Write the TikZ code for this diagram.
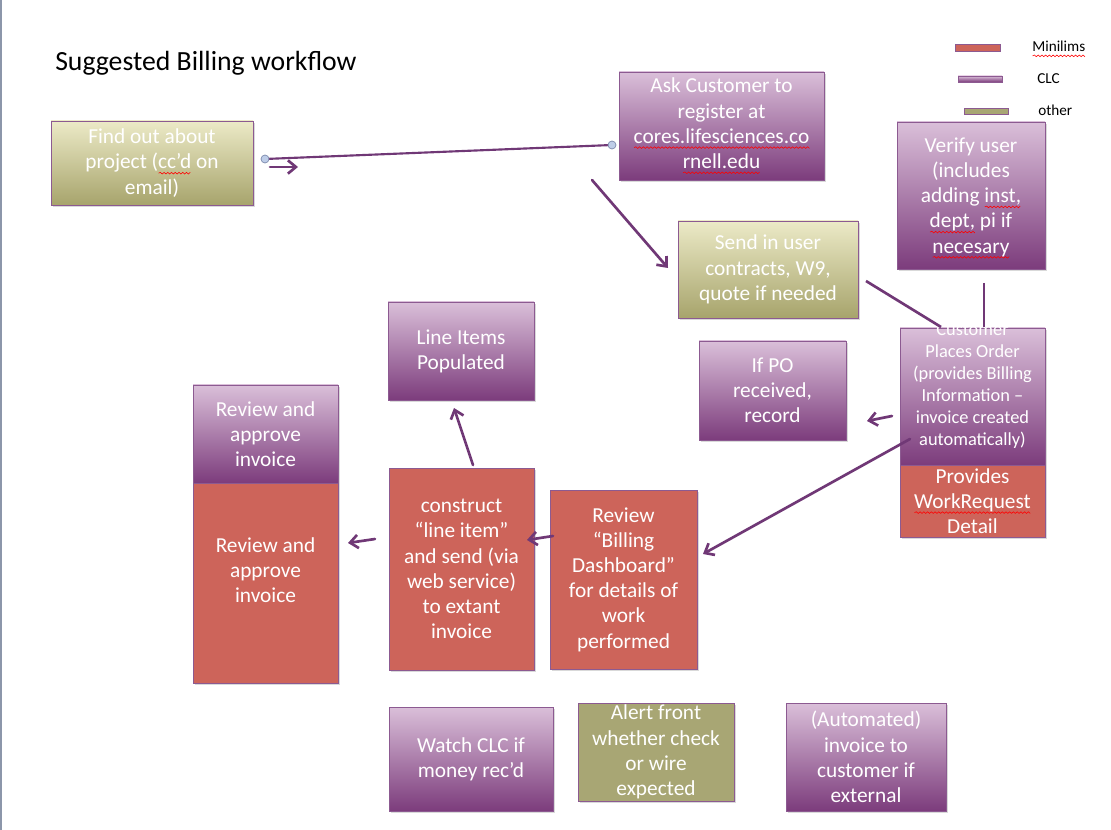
\documentclass[tikz,border=0pt]{standalone}
\usepackage{fontspec}
\setmainfont{Carlito}
\usetikzlibrary{arrows.meta,shadows}

\definecolor{clctop}{RGB}{218,191,217}
\definecolor{clcbot}{RGB}{124,60,124}
\definecolor{othtop}{RGB}{236,234,199}
\definecolor{othbot}{RGB}{167,164,108}
\definecolor{othflat}{RGB}{168,166,116}
\definecolor{milred}{RGB}{205,100,90}
\definecolor{boxline}{RGB}{140,90,145}
\definecolor{flowc}{RGB}{112,56,118}
\definecolor{endpt}{RGB}{190,205,232}

% red squiggle under a word (spell checker mark)
\newcommand\sq[1]{\leavevmode\setbox0\hbox{#1}%
  \rlap{\begin{pgfpicture}\pgfsetbaseline{0pt}%
    \pgfsetlinewidth{0.45pt}\pgfsetstrokecolor{red}%
    \pgfmathtruncatemacro\sqn{\wd0/1.4}%
    \pgfpathmoveto{\pgfpoint{0pt}{-3.2pt}}%
    \foreach \i in {1,...,\sqn}{\pgfpathlineto{\pgfpoint{\i*1.4pt}{-3.8pt+1.2pt*mod(\i,2)}}}%
    \pgfusepath{stroke}\end{pgfpicture}}\box0\relax}

\tikzset{
  boxbase/.style={draw=boxline, line width=0.6pt, inner sep=0pt, align=center,
    text=white, font=\fontsize{16}{18.9}\selectfont,
    drop shadow={opacity=0.3,shadow xshift=1.2pt,shadow yshift=-1.8pt}},
  clc/.style={boxbase, top color=clctop, bottom color=clcbot},
  other/.style={boxbase, top color=othtop, bottom color=othbot},
  otherflat/.style={boxbase, fill=othflat},
  minilims/.style={boxbase, fill=milred},
  sz/.style 2 args={minimum width=#1*0.75pt, minimum height=#2*0.75pt},
  boxtext/.style={align=center, text=white, inner sep=0pt},
  flow/.style={draw=flowc, line width=2pt, line cap=round,
    -{Straight Barb[length=6pt,width=10pt]}},
  link/.style={draw=flowc, line width=2pt},
  legtext/.style={anchor=west, inner sep=0pt, font=\fontsize{11.4}{12}\selectfont},
}

\begin{document}
\begin{tikzpicture}[x=0.75pt,y=-0.75pt]
  \useasboundingbox (0,0) rectangle (1111,830);
  \draw[color={rgb,255:red,140;green,150;blue,170},line width=1.2pt] (1,0) -- (1,830);

  % title and legend
  \node[anchor=west, inner sep=0pt, font=\fontsize{20.8}{22}\selectfont] (title) at (55,63) {Suggested Billing workflow};
  \draw[draw=boxline, fill=milred] (955,44) rectangle (1000,51);
  \draw[draw=boxline, top color=clctop, bottom color=clcbot] (958,76) rectangle (1002,82);
  \draw[draw=boxline, fill=othflat] (964,108) rectangle (1008,114);
  \node[legtext] (legmil) at (1032,49) {\sq{Minilims}};
  \node[legtext] (legclc) at (1037,79) {CLC};
  \node[legtext] (legoth) at (1038,110) {other};

  % top row
  \node[other, sz={202}{84}] (find) at (152,163) {Find out about\\project (\sq{cc’d} on\\email)};
  \node[clc, sz={205}{108}] (ask) at (721.5,126) {Ask Customer to\\register at\\\sq{cores.lifesciences.co}\\\sq{rnell.edu}};
  \node[clc, sz={148}{147}] (verify) at (971,195.5) {};
  \node[boxtext, font=\fontsize{16}{18.9}\selectfont] (verifytxt) at (971,198) {Verify user\\(includes\\adding \sq{inst,}\\\sq{dept,} pi if\\\sq{necesary}};
  \node[other, sz={180}{97}] (send) at (768,269.5) {Send in user\\contracts, W9,\\quote if needed};

  % customer order
  \node[clc, sz={145}{137}] (order) at (972.5,396.5) {};
  \node[boxtext, font=\fontsize{13.8}{16.5}\selectfont] (ordertxt) at (972.5,386) {Customer\\Places Order\\(provides Billing\\Information –\\invoice created\\automatically)};
  \node[minilims, sz={145}{72}] (detail) at (972.5,501) {Provides\\\sq{WorkRequest}\\Detail};
  \node[clc, sz={147}{99}] (po) at (772.5,390.5) {If PO\\received,\\record};

  % middle row
  \node[clc, sz={146}{98}] (lines) at (461,351) {Line Items\\Populated};
  \node[clc, sz={145}{98}] (apprclc) at (265.5,434) {Review and\\approve\\invoice};
  \node[minilims, sz={145}{200}] (apprmil) at (265.5,583) {};
  \node[boxtext, font=\fontsize{16}{18.9}\selectfont] (apprtxt) at (265.5,570) {Review and\\approve\\invoice};
  \node[minilims, sz={145}{202}] (construct) at (461.5,569) {construct\\“line item”\\and send (via\\web service)\\to extant\\invoice};
  \node[minilims, sz={147}{179}] (dash) at (623.5,579.5) {Review\\“Billing\\Dashboard”\\for details of\\work\\performed};

  % bottom row
  \node[clc, sz={164}{104}] (watch) at (471,759) {Watch CLC if\\money rec’d};
  \node[otherflat, sz={156}{98}] (alert) at (656,752) {Alert front\\whether check\\or wire\\expected};
  \node[clc, sz={160}{108}] (auto) at (866,757) {(Automated)\\invoice to\\customer if\\external};

  % connector ends
  \coordinate (findout) at (265,159);
  \coordinate (askin) at (612,145);
  \coordinate (findtail) at (270,167);
  \coordinate (findhead) at (298,167);
  \coordinate (askout) at (592,180);
  \coordinate (sendin) at (668,268);
  \coordinate (sendout) at (866,281);
  \coordinate (ordertl) at (941,327);
  \coordinate (verifyout) at (984,283);
  \coordinate (ordertop) at (984,327);
  \coordinate (orderpo) at (892,416);
  \coordinate (poin) at (867,421);
  \coordinate (orderdash) at (910,439);
  \coordinate (dashin) at (703,554);
  \coordinate (consttop) at (473,465);
  \coordinate (linesin) at (454,408);
  \coordinate (dashout) at (553,536);
  \coordinate (constin) at (527,540);
  \coordinate (constout) at (375,539);
  \coordinate (apprin) at (348,543);

  % connectors
  \draw[link, line width=1.6pt] (findout) -- (askin);
  \draw[flow] (findtail) -- (findhead);
  \foreach \c in {findout,askin}
    \draw[draw={rgb,255:red,120;green,135;blue,170}, fill=endpt, line width=0.5pt] (\c) circle (4);
  \draw[flow] (askout) -- (sendin);
  \draw[link] (sendout) -- (ordertl);
  \draw[link] (verifyout) -- (ordertop);
  \draw[flow] (orderpo) -- (poin);
  \draw[flow] (orderdash) -- (dashin);
  \draw[flow] (consttop) -- (linesin);
  \draw[flow] (dashout) -- (constin);
  \draw[flow] (constout) -- (apprin);
\end{tikzpicture}
\end{document}
